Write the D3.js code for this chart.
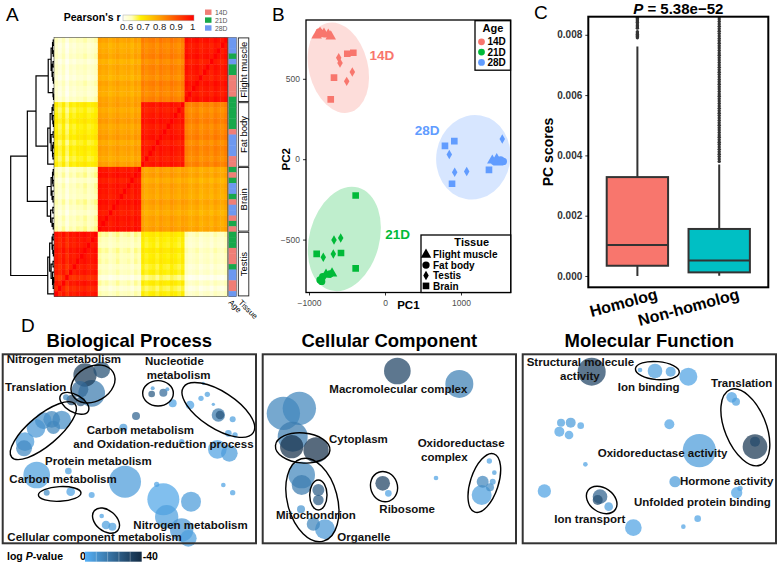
<!DOCTYPE html>
<html>
<head>
<meta charset="utf-8">
<script src="https://cdn.jsdelivr.net/npm/d3@7/dist/d3.min.js"></script>
<style>
  body { margin: 0; background: #fff; }
  svg { font-family: "Liberation Sans", Arial, sans-serif; }
</style>
</head>
<body>
<svg id="fig" width="778" height="563"></svg>
<script>
// ---------- A: sample correlation heatmap ----------
const tissues = ["Flight muscle", "Fat body", "Brain", "Testis"];
const tissueSizes = [12, 12, 12, 12];
const ageLevels = ["14D", "21D", "28D"];
// mean Pearson's r between tissue blocks
const blockR = [
    [0.97, 0.835, 0.79, 0.635],
    [0.835, 0.97, 0.80, 0.70],
    [0.79, 0.80, 0.97, 0.645],
    [0.635, 0.70, 0.645, 0.97]
];
// age of each sample, rows top to bottom (dendrogram order)
const sampleAge = [
    "28D", "28D", "28D", "21D", "28D", "21D", "21D", "14D", "14D", "14D", "14D", "21D",
    "21D", "21D", "21D", "21D", "21D", "14D", "28D", "28D", "28D", "28D", "14D", "14D",
    "21D", "14D", "21D", "28D", "28D", "21D", "14D", "28D", "28D", "14D", "21D", "14D",
    "21D", "21D", "21D", "14D", "14D", "14D", "21D", "28D", "28D", "14D", "14D", "28D"
];
// per-sample shift of r (light / dark stripes inside the blocks)
const sampleShift = [
    0.01, -0.005, 0, 0.01, -0.01, 0.005, 0, -0.01, 0.01, 0, -0.005, 0.01,
    0.005, -0.01, 0, 0.01, -0.005, 0, 0.01, -0.01, 0.005, 0, -0.01, 0.005,
    0, 0.01, -0.01, 0.005, 0, -0.005, 0.01, 0, -0.01, 0.005, 0, 0.01,
    0.01, 0, -0.005, 0.01, 0, 0.005, -0.01, 0, -0.03, 0.005, -0.02, 0
];
// hierarchical clustering: [height, left, right], leaves = sample index
const dendroTree = [0.45,
    [0.277,
        [0.187,
            [0.06, [0.03, [0.015, [0.008, 0, 1], [0.008, 2, 3]], [0.02, [0.01, 4, 5], [0.012, 6, [0.006, 7, 8]]]], [0.01, 9, [0.005, 10, 11]]],
            [0.065, [0.04, [0.02, [0.01, 12, 13], [0.012, 14, [0.006, 15, 16]]], [0.03, [0.01, 17, 18], [0.015, [0.008, 19, 20], [0.01, 21, 22]]]], 23]
        ],
        [0.07, [0.03, [0.015, [0.008, 24, 25], [0.01, 26, 27]], [0.02, 28, [0.01, 29, 30]]], [0.035, [0.012, 31, 32], [0.02, 33, [0.008, 34, 35]]]]
    ],
    [0.065, [0.045, [0.02, [0.01, 36, 37], [0.012, 38, [0.006, 39, 40]]], [0.03, [0.01, 41, 42], [0.015, 43, [0.008, [0.004, 44, 45], 46]]]], 47]
];
const rTicks = [0.6, 0.7, 0.8, 0.9, 1];

// ---------- B: PCA ----------
// [age, tissue, PC1, PC2]
const pcaPoints = [
    ["14D", "Flight muscle", -899, 770], ["14D", "Flight muscle", -855, 787], ["14D", "Flight muscle", -803, 781],
    ["14D", "Flight muscle", -746, 775], ["14D", "Flight muscle", -714, 764],
    ["14D", "Fat body", -864, 791], ["14D", "Fat body", -829, 781],
    ["14D", "Brain", -496, 656], ["14D", "Brain", -417, 662], ["14D", "Brain", -671, 507], ["14D", "Brain", -714, 372],
    ["14D", "Testis", -609, 631], ["14D", "Testis", -592, 598], ["14D", "Testis", -430, 542], ["14D", "Testis", -504, 484],
    ["21D", "Fat body", -855, -751], ["21D", "Fat body", -833, -760], ["21D", "Fat body", -820, -730],
    ["21D", "Flight muscle", -776, -718], ["21D", "Fat body", -724, -714], ["21D", "Flight muscle", -697, -710],
    ["21D", "Brain", -386, -226], ["21D", "Brain", -899, -589], ["21D", "Brain", -579, -583], ["21D", "Brain", -386, -679],
    ["21D", "Testis", -671, -502], ["21D", "Testis", -583, -490], ["21D", "Testis", -812, -610], ["21D", "Testis", -680, -589],
    ["28D", "Brain", 789, 83], ["28D", "Brain", 912, 112], ["28D", "Brain", 1368, -66], ["28D", "Brain", 882, -153],
    ["28D", "Testis", 846, 29], ["28D", "Testis", 917, -81], ["28D", "Testis", 1075, -77], ["28D", "Testis", 1543, 125],
    ["28D", "Flight muscle", 1412, -8], ["28D", "Flight muscle", 1470, 0], ["28D", "Fat body", 1522, -4],
    ["28D", "Fat body", 1557, -14], ["28D", "Flight muscle", 1491, -20], ["28D", "Fat body", 1439, -14]
];
// confidence ellipses: [age, centre PC1, centre PC2, radius PC1, radius PC2, angle]
const pcaEllipses = [
    ["14D", -614, 569, 388, 286, -14],
    ["21D", -535, -496, 461, 331, 15],
    ["28D", 1162, 12, 487, 264, 10]
];
const pcaAgeLabels = [["14D", -40, 646], ["21D", 165, -463], ["28D", 553, 179]];
const pc1Ticks = [-1000, 0, 1000];
const pc2Ticks = [-500, 0, 500];

// ---------- C: PC scores boxplot ----------
const homologGroups = ["Homolog", "Non-homolog"];
const boxStats = [
    { lo: 0, q1: 0.00034, median: 0.00103, q3: 0.00328, hi: 0.00761 },
    { lo: 0.00001, q1: 0.00012, median: 0.00051, q3: 0.00156, hi: 0.0037 }
];
const boxOutliers = [
    [0.0079, 0.00794, 0.00798, 0.00802, 0.00806, 0.0081, 0.00822, 0.00826, 0.0083, 0.00836, 0.00842,
     0.00846, 0.0085, 0.00854, 0.00858, 0.0086],
    [0.0038, 0.00388, 0.00396, 0.00404, 0.00412, 0.0042, 0.00428, 0.00436, 0.00444, 0.00452, 0.0046,
     0.00468, 0.00476, 0.00484, 0.00492, 0.005, 0.00508, 0.00516, 0.00524, 0.00532, 0.0054, 0.00548,
     0.00556, 0.00564, 0.00572, 0.0058, 0.00588, 0.00596, 0.00604, 0.00612, 0.0062, 0.00628, 0.00636,
     0.00644, 0.00652, 0.0066, 0.00668, 0.00676, 0.00684, 0.00692, 0.007, 0.00708, 0.00716, 0.00724,
     0.00732, 0.0074, 0.00748, 0.00756, 0.00764, 0.00772, 0.0078, 0.00788, 0.00796, 0.00804, 0.00812,
     0.0082, 0.00828, 0.00836, 0.00844, 0.00852, 0.0086]
];
const scoreTicks = [0, 0.002, 0.004, 0.006, 0.008];

// ---------- D: GO term bubbles, [semantic x, semantic y, size, log P] ----------
const bpBubbles = [
    [305, 210, 25, -28], [255, 225, 35, -35], [275, 280, 40, -15], [240, 268, 25, -20], [215, 300, 16, -30],
    [242, 305, 14, -26], [198, 292, 9, -12], [185, 360, 28, -10], [155, 358, 25, -12], [130, 362, 25, -9],
    [108, 385, 28, -7], [160, 382, 20, -12], [75, 425, 28, -6], [72, 445, 24, -11], [455, 282, 10, -25],
    [490, 278, 12, -20], [458, 265, 6, -6], [502, 268, 6, -6], [518, 310, 12, -4], [408, 348, 12, -22],
    [370, 383, 12, -6], [610, 250, 5, -5], [603, 295, 8, -4], [622, 283, 8, -5], [570, 315, 13, -4],
    [640, 313, 5, -5], [655, 345, 20, -16], [660, 345, 13, -26], [698, 358, 9, -5], [685, 400, 10, -5],
    [705, 405, 8, -5], [652, 448, 28, -4], [688, 460, 25, -6], [545, 425, 8, -4], [110, 525, 40, -5],
    [205, 513, 10, -5], [375, 545, 48, -6], [140, 578, 9, -10], [212, 575, 13, -4], [275, 585, 9, -4],
    [470, 553, 8, -4], [490, 598, 48, -3], [573, 605, 30, -6], [500, 650, 35, -5], [545, 690, 35, -7],
    [565, 715, 25, -5], [305, 648, 7, -4], [318, 675, 13, -5], [337, 680, 12, -5], [670, 555, 7, -4],
    [698, 578, 8, -4]
];
const ccBubbles = [
    [412, 213, 40, -32], [598, 252, 42, -14], [70, 340, 50, -12], [118, 325, 50, -12], [98, 410, 45, -15],
    [95, 440, 35, -38], [168, 450, 38, -38], [125, 525, 40, -12], [125, 555, 30, -15], [175, 570, 18, -24],
    [175, 600, 16, -24], [123, 628, 12, -8], [160, 672, 20, -12], [195, 688, 30, -7], [368, 550, 22, -32],
    [385, 580, 10, -4], [528, 534, 7, -4], [688, 483, 8, -4], [703, 518, 7, -5], [668, 545, 18, -12],
    [698, 545, 9, -6], [690, 562, 12, -10], [665, 585, 30, -5]
];
const mfBubbles = [
    [215, 215, 42, -32], [360, 210, 7, -4], [405, 213, 22, -5], [452, 215, 15, -5], [505, 230, 27, -4],
    [635, 292, 16, -4], [648, 305, 12, -5], [705, 440, 37, -36], [705, 425, 15, -30], [123, 368, 12, -5],
    [152, 368, 15, -6], [182, 377, 10, -4], [118, 395, 15, -4], [147, 405, 13, -4], [448, 373, 15, -4],
    [538, 452, 50, -6], [196, 493, 7, -4], [465, 545, 17, -6], [650, 578, 17, -4], [660, 565, 8, -4],
    [73, 573, 20, -4], [240, 590, 22, -22], [233, 600, 15, -28], [266, 620, 13, -5], [340, 683, 25, -4],
    [533, 656, 10, -4], [490, 680, 7, -4]
];
// grouped terms: [centre x, centre y, radius x, radius y, angle]
const bpRings = [[279, 252, 70, 52, -30], [223, 310, 48, 26, 30], [130, 392, 124, 45, -40], [474, 280, 46, 38, 0],
    [655, 330, 125, 55, 33], [179, 582, 64, 22, -3], [318, 662, 46, 31, 40]];
const ccRings = [[128, 444, 82, 45, 5], [175, 585, 26, 45, 0], [157, 600, 75, 128, -15], [372, 560, 40, 46, -20],
    [673, 549, 42, 92, 18]];
const mfRings = [[412, 212, 66, 27, 5], [676, 382, 62, 122, -22], [245, 600, 50, 36, 35]];
const bpLabels = [["Nitrogen metabolism", 20, 190], ["Translation", 15, 273], ["Nucleotide", 435, 195],
    ["metabolism", 440, 237], ["Carbon metabolism", 260, 403], ["and Oxidation-reduction process", 220, 445],
    ["Protein metabolism", 135, 495], ["Carbon metabolism", 28, 550], ["Nitrogen metabolism", 400, 688],
    ["Cellular component metabolism", 22, 722]];
const ccLabels = [["Macromolecular complex", 208, 278], ["Cytoplasm", 207, 428], ["Oxidoreductase", 473, 442],
    ["complex", 483, 483], ["Mitochondrion", 48, 657], ["Ribosome", 358, 640], ["Organelle", 232, 722]];
const mfLabels = [["Structural molecule", 20, 197], ["activity", 120, 240], ["Ion binding", 293, 272],
    ["Translation", 573, 260], ["Oxidoreductase activity", 233, 472], ["Hormone activity", 480, 555],
    ["Unfolded protein binding", 342, 618], ["Ion transport", 103, 670]];

// =========================================================
var svg = d3.select("#fig");
var defs = svg.append("defs");

function letter(t, x, y) {
    svg.append("text").attr("x", x).attr("y", y).attr("font-size", 19).text(t);
}
letter("A", 6, 21);
letter("B", 272, 21);
letter("C", 534, 19);
letter("D", 21, 332);

/**
 * Panel A
 */
{
    var g = svg.append("g");
    var sampleTissue = tissueSizes.flatMap((n, t) => Array(n).fill(t));
    var idx = d3.range(sampleTissue.length);
    var hy = d3.scaleBand().domain(idx).range([37.3, 296.5]);
    var hx = d3.scaleBand().domain(idx.slice().reverse()).range([54, 227.5]);
    var rColor = d3.scaleLinear()
        .domain([0.6, 0.65, 0.7, 0.8, 0.9, 1])
        .range(["#FFFFF2", "#FFFFB8", "#FFF000", "#FFA500", "#FF5000", "#FF0000"])
        .clamp(true);

    var cells = [];
    idx.forEach(i => idx.forEach(j => {
        var r = i === j ? 1 : Math.min(0.995, blockR[sampleTissue[i]][sampleTissue[j]] + sampleShift[i] + sampleShift[j]);
        cells.push({i, j, r});
    }));
    g.append("g").selectAll("rect").data(cells).join("rect")
        .attr("x", d => hx(d.j)).attr("y", d => hy(d.i))
        .attr("width", hx.bandwidth() + 0.4).attr("height", hy.bandwidth() + 0.4)
        .attr("fill", d => rColor(d.r));
    g.append("rect").attr("x", 54).attr("y", 37.3).attr("width", 173.5).attr("height", 259.2)
        .attr("fill", "none").attr("stroke", "#444").attr("stroke-width", 0.6);

    // age annotation bar
    var ageColor = d3.scaleOrdinal(ageLevels, ["#F07E76", "#17A84A", "#6D98F0"]);
    g.append("g").selectAll("rect").data(idx).join("rect")
        .attr("x", 228.5).attr("width", 8)
        .attr("y", i => hy(i)).attr("height", hy.bandwidth() + 0.4)
        .attr("fill", i => ageColor(sampleAge[i]));
    g.append("rect").attr("x", 228.5).attr("y", 37.3).attr("width", 8).attr("height", 259.2)
        .attr("fill", "none").attr("stroke", "#555").attr("stroke-width", 0.5);

    // tissue annotation boxes
    var start = 0;
    tissueSizes.forEach((n, t) => {
        var y0 = hy(start), y1 = hy(start + n - 1) + hy.bandwidth();
        g.append("rect").attr("x", 238.3).attr("y", y0 + 0.6).attr("width", 10.5).attr("height", y1 - y0 - 1.2)
            .attr("fill", "#fff").attr("stroke", "#222").attr("stroke-width", 0.9);
        g.append("text").attr("transform", `translate(247,${(y0 + y1) / 2}) rotate(-90)`)
            .attr("text-anchor", "middle").attr("font-size", 9.5).text(tissues[t]);
        start += n;
    });
    g.append("text").attr("transform", "translate(228,303) rotate(45)").attr("font-size", 8).text("Age");
    g.append("text").attr("transform", "translate(238,303) rotate(45)").attr("font-size", 8).text("Tissue");

    // dendrogram
    var hScale = d3.scaleLinear().domain([0, 0.45]).range([54, 10.7]);
    var root = d3.hierarchy(dendroTree, d => Array.isArray(d) ? d.slice(1) : null);
    root.eachAfter(n => {
        if (n.children) { n.h = n.data[0]; n.yy = d3.mean(n.children, c => c.yy); }
        else { n.h = 0; n.yy = hy(n.data) + hy.bandwidth() / 2; }
    });
    var p = d3.path();
    root.each(n => {
        if (!n.children) return;
        var [a, b] = n.children, x = hScale(n.h);
        p.moveTo(hScale(a.h), a.yy); p.lineTo(x, a.yy); p.lineTo(x, b.yy); p.lineTo(hScale(b.h), b.yy);
    });
    g.append("path").attr("d", p.toString()).attr("fill", "none").attr("stroke", "#000").attr("stroke-width", 1.2);

    // Pearson's r colour legend
    var rl = d3.scaleLinear().domain([0.6, 1]).range([126.7, 192.7]);
    var grad = defs.append("linearGradient").attr("id", "rgrad");
    d3.range(0.6, 1.001, 0.05).forEach(v => grad.append("stop")
        .attr("offset", (v - 0.6) / 0.4).attr("stop-color", rColor(v)));
    g.append("rect").attr("x", 123).attr("y", 15).attr("width", 71).attr("height", 5.8)
        .attr("fill", "url(#rgrad)").attr("stroke", "#aaa").attr("stroke-width", 0.5);
    g.append("text").attr("x", 120.5).attr("y", 20.5).attr("text-anchor", "end")
        .attr("font-size", 10.5).attr("font-weight", "bold").text("Pearson's r");
    g.selectAll("text.rt").data(rTicks).join("text").attr("class", "rt")
        .attr("x", d => rl(d)).attr("y", 29.8).attr("text-anchor", "middle")
        .attr("font-size", 9.5).attr("fill", "#222").text(d => d);

    // age legend
    ageLevels.forEach((a, k) => {
        g.append("rect").attr("x", 205).attr("y", 9.5 + k * 7.9).attr("width", 6.5).attr("height", 5.4).attr("fill", ageColor(a));
        g.append("text").attr("x", 215).attr("y", 14.8 + k * 7.9).attr("font-size", 6.8).attr("fill", "#555").text(a);
    });
}

/**
 * Panel B
 */
{
    var fr = {x0: 306, x1: 510.7, y0: 20, y1: 292.5};
    var g = svg.append("g");
    var bx = d3.scaleLinear().domain([-1000, 1000]).range([309, 461]);
    var by = d3.scaleLinear().domain([-500, 500]).range([239.6, 78.8]);
    var ageFill = d3.scaleOrdinal(ageLevels, ["#F8766D", "#00BA38", "#619CFF"]);
    var shape = d3.scaleOrdinal(["Flight muscle", "Fat body", "Testis", "Brain"],
        [d3.symbolTriangle, d3.symbolCircle, d3.symbolDiamond, d3.symbolSquare]);
    var shapeSize = d3.scaleOrdinal(["Flight muscle", "Fat body", "Testis", "Brain"], [48, 42, 26, 44]);

    defs.append("clipPath").attr("id", "clipB").append("rect")
        .attr("x", fr.x0).attr("y", fr.y0).attr("width", fr.x1 - fr.x0).attr("height", fr.y1 - fr.y0);
    var inner = g.append("g").attr("clip-path", "url(#clipB)");
    inner.selectAll("ellipse").data(pcaEllipses).join("ellipse")
        .attr("transform", d => `translate(${bx(d[1])},${by(d[2])}) rotate(${d[5]})`)
        .attr("rx", d => bx(d[1] + d[3]) - bx(d[1]))
        .attr("ry", d => by(d[2]) - by(d[2] + d[4]))
        .attr("fill", d => ageFill(d[0])).attr("fill-opacity", 0.25);
    inner.selectAll("path").data(pcaPoints).join("path")
        .attr("transform", d => `translate(${bx(d[2])},${by(d[3])})`)
        .attr("d", d => d3.symbol(shape(d[1]), shapeSize(d[1]))())
        .attr("fill", d => ageFill(d[0]));
    inner.selectAll("text").data(pcaAgeLabels).join("text")
        .attr("x", d => bx(d[1])).attr("y", d => by(d[2]) + 5)
        .attr("text-anchor", "middle").attr("font-size", 13.5).attr("font-weight", "bold")
        .attr("fill", d => ageFill(d[0])).text(d => d[0]);

    var yAxis = g.append("g").attr("transform", `translate(${fr.x0},0)`)
        .call(d3.axisLeft(by).tickValues(pc2Ticks).tickSize(3).tickFormat(d3.format("d")));
    var xAxis = g.append("g").attr("transform", `translate(0,${fr.y1})`)
        .call(d3.axisBottom(bx).tickValues(pc1Ticks).tickSize(3).tickFormat(d3.format("d")));
    [xAxis, yAxis].forEach(a => {
        a.select(".domain").remove();
        a.selectAll("line").attr("stroke", "#333");
        a.selectAll("text").attr("font-size", 8.5).attr("fill", "#4D4D4D").attr("font-family", null);
    });
    xAxis.selectAll("text").attr("dy", "0.9em");

    g.append("rect").attr("x", fr.x0).attr("y", fr.y0).attr("width", fr.x1 - fr.x0).attr("height", fr.y1 - fr.y0)
        .attr("fill", "none").attr("stroke", "#000").attr("stroke-width", 1.3);
    g.append("text").attr("x", (fr.x0 + fr.x1) / 2).attr("y", 309).attr("text-anchor", "middle")
        .attr("font-size", 11.5).attr("font-weight", "bold").text("PC1");
    g.append("text").attr("transform", `translate(290,${by(0)}) rotate(-90)`).attr("text-anchor", "middle")
        .attr("font-size", 11.5).attr("font-weight", "bold").text("PC2");

    // age legend
    g.append("rect").attr("x", 475).attr("y", 20.7).attr("width", 35.5).attr("height", 49.5)
        .attr("fill", "#fff").attr("stroke", "#000").attr("stroke-width", 1.3);
    g.append("text").attr("x", 493).attr("y", 32.3).attr("text-anchor", "middle")
        .attr("font-size", 11).attr("font-weight", "bold").text("Age");
    ageLevels.forEach((a, k) => {
        g.append("circle").attr("cx", 481.5).attr("cy", 41.8 + k * 10.3).attr("r", 3.4).attr("fill", ageFill(a));
        g.append("text").attr("x", 487.5).attr("y", 45.3 + k * 10.3).attr("font-size", 10)
            .attr("font-weight", "bold").text(a);
    });
    // tissue legend
    g.append("rect").attr("x", 421).attr("y", 235).attr("width", 89.7).attr("height", 57.5)
        .attr("fill", "#fff").attr("stroke", "#000").attr("stroke-width", 1.3);
    g.append("text").attr("x", 471.7).attr("y", 245.5).attr("text-anchor", "middle")
        .attr("font-size", 11).attr("font-weight", "bold").text("Tissue");
    shape.domain().forEach((t, k) => {
        var yy = 254.7 + k * 10.4;
        g.append("path").attr("transform", `translate(426,${yy})`)
            .attr("d", d3.symbol(shape(t), shapeSize(t))()).attr("fill", "#000");
        g.append("text").attr("x", 433).attr("y", yy + 3.6).attr("font-size", 10)
            .attr("font-weight", "bold").text(t);
    });
}

/**
 * Panel C
 */
{
    var fr = {x0: 588.3, x1: 768.3, y0: 16.7, y1: 287.3};
    var g = svg.append("g");
    var cx = d3.scalePoint().domain(homologGroups).range([fr.x0, fr.x1]).padding(0.6);
    var cy = d3.scaleLinear().domain([-0.000375, 0.0086]).range([fr.y1, fr.y0]);
    var fills = ["#F8766D", "#00BFC4"];
    var bw = cx.step() * 0.75;

    defs.append("clipPath").attr("id", "clipC").append("rect")
        .attr("x", fr.x0).attr("y", fr.y0).attr("width", fr.x1 - fr.x0).attr("height", fr.y1 - fr.y0);
    var inner = g.append("g").attr("clip-path", "url(#clipC)");
    homologGroups.forEach((grp, k) => {
        var s = boxStats[k], x = cx(grp);
        inner.append("line").attr("x1", x).attr("x2", x).attr("y1", cy(s.hi)).attr("y2", cy(s.lo))
            .attr("stroke", "#333").attr("stroke-width", 2);
        inner.selectAll(null).data(boxOutliers[k]).join("circle")
            .attr("cx", x).attr("cy", d => cy(d)).attr("r", 1.7).attr("fill", "#333");
        inner.append("rect").attr("x", x - bw / 2).attr("width", bw)
            .attr("y", cy(s.q3)).attr("height", cy(s.q1) - cy(s.q3))
            .attr("fill", fills[k]).attr("stroke", "#333").attr("stroke-width", 2);
        inner.append("line").attr("x1", x - bw / 2).attr("x2", x + bw / 2)
            .attr("y1", cy(s.median)).attr("y2", cy(s.median)).attr("stroke", "#333").attr("stroke-width", 2);
        g.append("text").attr("transform", `translate(${x + 21},299) rotate(-15)`)
            .attr("text-anchor", "end").attr("font-size", 16).attr("font-weight", "bold").text(grp);
    });

    var yAxis = g.append("g").attr("transform", `translate(${fr.x0},0)`)
        .call(d3.axisLeft(cy).tickValues(scoreTicks).tickSize(3).tickFormat(d3.format(".3f")));
    yAxis.select(".domain").remove();
    yAxis.selectAll("line").attr("stroke", "#333");
    yAxis.selectAll("text").attr("font-size", 10).attr("font-weight", "bold").attr("fill", "#333")
        .attr("font-family", null);

    g.append("rect").attr("x", fr.x0).attr("y", fr.y0).attr("width", fr.x1 - fr.x0).attr("height", fr.y1 - fr.y0)
        .attr("fill", "none").attr("stroke", "#000").attr("stroke-width", 2);
    g.append("text").attr("transform", `translate(553,152) rotate(-90)`).attr("text-anchor", "middle")
        .attr("font-size", 14).attr("font-weight", "bold").text("PC scores");
    var t = g.append("text").attr("x", (fr.x0 + fr.x1) / 2).attr("y", 13.5).attr("text-anchor", "middle")
        .attr("font-size", 15).attr("font-weight", "bold");
    t.append("tspan").attr("font-style", "italic").text("P");
    t.append("tspan").text(" = 5.38e\u221252");
}

/**
 * Panel D
 */
{
    var semX = [8, 768], semY = [163, 730];
    var dTop = 354.3, dBottom = 543.3;
    var pColor = d3.scaleLinear().domain([-40, 0]).range(["#132B43", "#56B1F7"])
        .interpolate(d3.interpolateLab).clamp(true);
    var rScale = d3.scaleLinear().domain([0, 60]).range([0, 20]);

    function drawGo(x0, x1, title, bubbles, rings, labels) {
        var g = svg.append("g");
        var x = d3.scaleLinear().domain(semX).range([x0, x1]);
        var y = d3.scaleLinear().domain(semY).range([dTop, dBottom]);
        var k = (x1 - x0) / (semX[1] - semX[0]);
        g.append("text").attr("x", (x0 + x1) / 2).attr("y", 347).attr("text-anchor", "middle")
            .attr("font-size", 18.5).attr("font-weight", "bold").text(title);
        g.append("g").selectAll("circle").data(bubbles.slice().sort((a, b) => b[2] - a[2])).join("circle")
            .attr("cx", d => x(d[0])).attr("cy", d => y(d[1]))
            .attr("r", d => rScale(d[2]))
            .attr("fill", d => pColor(d[3])).attr("fill-opacity", 0.72);
        g.append("g").selectAll("ellipse").data(rings).join("ellipse")
            .attr("transform", d => `translate(${x(d[0])},${y(d[1])}) rotate(${d[4]})`)
            .attr("rx", d => d[2] * k).attr("ry", d => d[3] * k)
            .attr("fill", "none").attr("stroke", "#000").attr("stroke-width", 1.4);
        g.append("g").selectAll("text").data(labels).join("text")
            .attr("x", d => x(d[1])).attr("y", d => y(d[2]))
            .attr("font-size", 11.5).attr("font-weight", "bold").attr("fill", "#111").text(d => d[0]);
        g.append("rect").attr("x", x0).attr("y", dTop).attr("width", x1 - x0).attr("height", dBottom - dTop)
            .attr("fill", "none").attr("stroke", "#333").attr("stroke-width", 2);
    }
    drawGo(2.7, 256, "Biological Process", bpBubbles, bpRings, bpLabels);
    drawGo(262.7, 516, "Cellular Component", ccBubbles, ccRings, ccLabels);
    drawGo(522.7, 776, "Molecular Function", mfBubbles, mfRings, mfLabels);

    // log P legend
    var lg = defs.append("linearGradient").attr("id", "pgrad");
    [0, -10, -20, -30, -40].forEach((v, i) => lg.append("stop").attr("offset", i / 4).attr("stop-color", pColor(v)));
    var leg = svg.append("g");
    var t = leg.append("text").attr("x", 7).attr("y", 559.5).attr("font-size", 10.5).attr("font-weight", "bold");
    t.append("tspan").text("log ");
    t.append("tspan").attr("font-style", "italic").text("P");
    t.append("tspan").text("-value");
    leg.append("text").attr("x", 80).attr("y", 559.5).attr("font-size", 10.5).attr("font-weight", "bold").text("0");
    leg.append("rect").attr("x", 85).attr("y", 551.7).attr("width", 56.7).attr("height", 10).attr("fill", "url(#pgrad)");
    [1, 2, 3, 4].forEach(i => leg.append("line").attr("x1", 85 + i * 11.3).attr("x2", 85 + i * 11.3)
        .attr("y1", 551.7).attr("y2", 561.7).attr("stroke", "#fff").attr("stroke-opacity", 0.5).attr("stroke-width", 0.6));
    leg.append("text").attr("x", 142.7).attr("y", 559.5).attr("font-size", 10.5).attr("font-weight", "bold").text("-40");
}
</script>
</body>
</html>
